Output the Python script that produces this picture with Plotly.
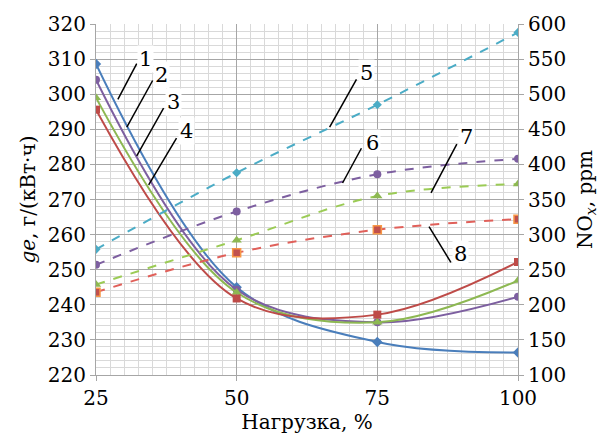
import plotly.graph_objects as go

load = [25, 50, 75, 100]

# specific fuel consumption ge, g/(kW·h) — left axis
ge_1 = [308.6, 245.0, 229.4, 226.4]
ge_2 = [304.1, 244.3, 235.0, 242.3]
ge_3 = [299.0, 243.5, 235.0, 246.9]
ge_4 = [295.6, 241.8, 237.2, 252.2]

# NOx, ppm — right axis
nox_5 = [279, 388, 485, 588]
nox_6 = [257, 333, 386, 408]
nox_7 = [229, 292, 355, 372]
nox_8 = [218, 274, 307, 322]

labels = ["1", "2", "3", "4", "5", "6", "7", "8"]
label_xy = [(33.8, 310.1), (36.7, 305.6), (38.8, 297.9), (41.1, 289.4),
            (73.1, 305.9), (74.1, 286.0), (90.9, 287.7), (89.8, 254.6)]
leader = [((32.24, 308.7), (28.89, 298.5)), ((35.07, 303.9), (30.48, 290.6)),
          ((37.01, 296.0), (32.24, 282.4)), ((39.31, 287.5), (34.36, 274.2)),
          ((71.29, 304.2), (66.52, 290.6)), ((72.17, 284.6), (68.82, 274.7)),
          ((89.13, 285.8), (84.54, 271.9)), ((88.07, 252.1), (84.19, 262.3))]

FONT = "DejaVu Serif"
FS = 20

fig = go.Figure()

solid = [
    (ge_1, "#4A7EBB", "diamond", 8),
    (ge_2, "#7D5FA0", "circle", 8),
    (ge_3, "#8DB852", "triangle-up", 9),
    (ge_4, "#BE4B48", "square", 8),
]
for ys, c, sym, sz in solid:
    fig.add_trace(go.Scatter(x=load, y=ys, mode="lines+markers",
                             line=dict(color=c, width=2, shape="spline", smoothing=1),
                             marker=dict(symbol=sym, size=sz, color=c),
                             showlegend=False, yaxis="y"))

dashed = [
    (nox_5, "#4BACC6", "#4BACC6", "diamond", 7),
    (nox_6, "#7D5FA0", "#7D5FA0", "circle", 8),
    (nox_7, "#9BCB55", "#8DB852", "triangle-up", 9),
    (nox_8, "#E0605A", "#C0504D", "square", 8),
]
for i, (ys, lc, mc, sym, sz) in enumerate(dashed):
    mk = dict(symbol=sym, size=sz, color=mc)
    if i == 3:
        mk["line"] = dict(color="#F79646", width=1.5)
    fig.add_trace(go.Scatter(x=load, y=ys, mode="lines+markers",
                             line=dict(color=lc, width=2, dash="dash", shape="spline", smoothing=1),
                             marker=mk, showlegend=False, yaxis="y2"))

for (p0, p1) in leader:
    fig.add_shape(type="line", xref="x", yref="y", x0=p0[0], y0=p0[1], x1=p1[0], y1=p1[1],
                  line=dict(color="black", width=1.5))
for lab, (x, y) in zip(labels, label_xy):
    fig.add_annotation(x=x, y=y, xref="x", yref="y", text=lab, showarrow=False,
                       font=dict(family=FONT, size=21, color="black"),
                       bgcolor="white", borderpad=1)

grid_major = "#A6A6A6"
grid_minor = "#D9D9D9"

fig.update_layout(
    width=604, height=440,
    margin=dict(l=96, r=83, t=22, b=65),
    paper_bgcolor="white", plot_bgcolor="white",
    font=dict(family=FONT, size=FS, color="black"),
    xaxis=dict(range=[25, 100], tickvals=load, ticktext=[str(v) for v in load],
               showgrid=True, gridcolor=grid_major, gridwidth=1,
               minor=dict(dtick=2.5, tick0=25, showgrid=True, gridcolor=grid_minor, gridwidth=1),
               ticks="outside", ticklen=5, tickcolor=grid_major,
               showline=True, linecolor=grid_major, zeroline=False,
               tickfont=dict(family=FONT, size=FS),
               title=dict(text="Нагрузка, %", font=dict(family=FONT, size=FS), standoff=2)),
    yaxis=dict(range=[220, 320], dtick=10, tick0=220,
               showgrid=True, gridcolor=grid_major, gridwidth=1,
               minor=dict(dtick=2, tick0=220, showgrid=True, gridcolor=grid_minor, gridwidth=1),
               ticks="outside", ticklen=5, tickcolor=grid_major,
               showline=True, linecolor=grid_major, zeroline=False,
               tickfont=dict(family=FONT, size=FS),
               title=dict(text="<i>ge</i>, г/(кВт·ч)", font=dict(family=FONT, size=FS), standoff=6)),
    yaxis2=dict(range=[100, 600], dtick=50, tick0=100, overlaying="y", side="right",
                showgrid=False, ticks="outside", ticklen=5, tickcolor=grid_major,
                showline=True, linecolor=grid_major, zeroline=False,
                tickfont=dict(family=FONT, size=FS),
                title=dict(text="NO<sub><i>x</i></sub>, ppm", font=dict(family=FONT, size=FS), standoff=12)),
)

fig.write_html("out.html")
